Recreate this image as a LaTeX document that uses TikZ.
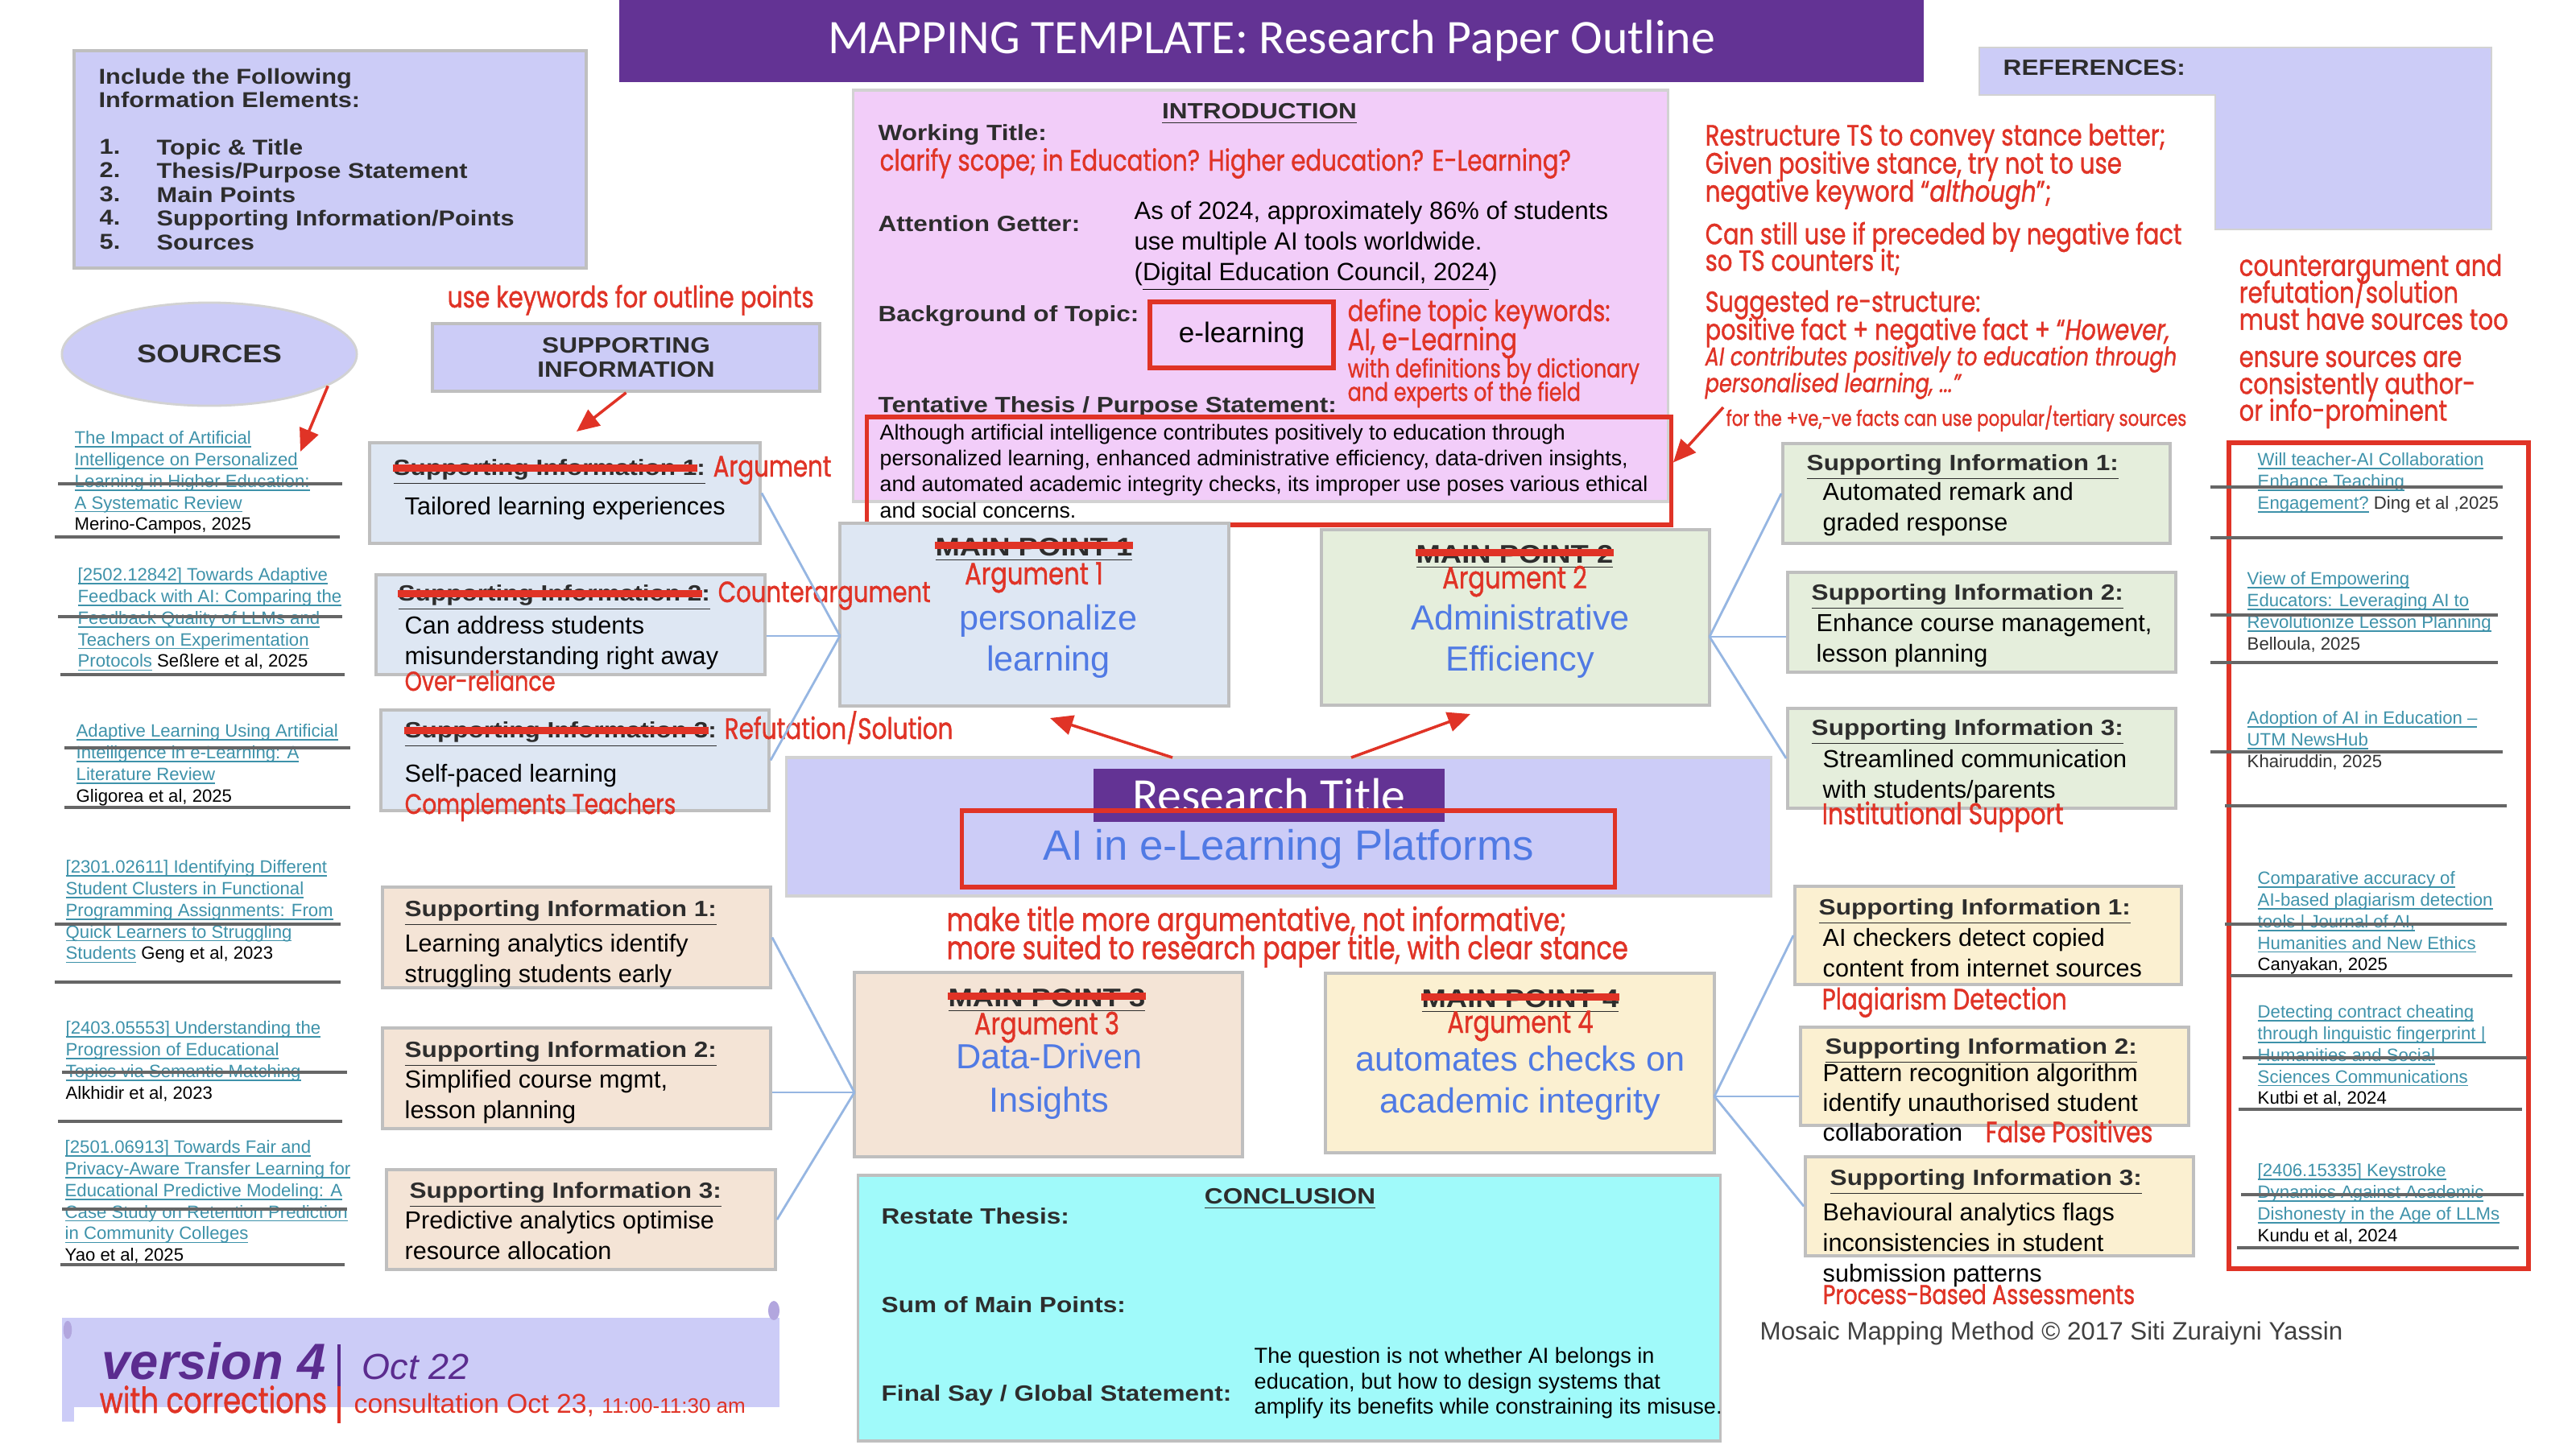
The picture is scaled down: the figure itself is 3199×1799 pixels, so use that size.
\documentclass[tikz,border=0pt]{standalone}
\usepackage{fontspec}
\usetikzlibrary{shapes.geometric,arrows.meta}
\setmainfont{Liberation Sans}
\newfontfamily\redf[FakeStretch=0.8, FakeBold=1]{Poppins}
\newfontfamily\hdf[FakeStretch=1.15]{Liberation Sans}
\newfontfamily\ttlf{Carlito}
\newcommand{\fsz}[2]{\fontsize{#1}{#2}\selectfont\lineskiplimit=-100pt\lineskip=0pt\relax}
\newsavebox\lnkbox
\newcommand{\lnk}[1]{\sbox\lnkbox{#1}\rlap{\rule[-1.2pt]{\wd\lnkbox}{0.45pt}}\usebox\lnkbox}
\definecolor{lav}{RGB}{204,204,247}
\definecolor{pinkbg}{RGB}{242,205,249}
\definecolor{purp}{RGB}{99,51,148}
\definecolor{verc}{RGB}{91,44,143}
\definecolor{bluebox}{RGB}{222,231,243}
\definecolor{greenbox}{RGB}{229,238,220}
\definecolor{tanbox}{RGB}{244,228,214}
\definecolor{yelbox}{RGB}{251,240,209}
\definecolor{cyanbox}{RGB}{160,250,250}
\definecolor{redc}{RGB}{224,51,38}
\definecolor{bluet}{RGB}{80,122,228}
\definecolor{lnkc}{RGB}{62,146,170}
\definecolor{connc}{RGB}{150,182,226}
\definecolor{hdc}{RGB}{45,45,45}
\tikzset{
 frameb/.style={draw=gray!50, line width=1pt, inner sep=0pt},
 redframe/.style={draw=redc, line width=1.5pt, inner sep=0pt},
 connl/.style={draw=connc, line width=0.8pt},
 redarr/.style={draw=redc, line width=1pt, -{Triangle[length=8pt,width=7pt]}},
 strk/.style={draw=redc, line width=2.6pt},
 sepl/.style={draw=gray!80!black, line width=1.1pt},
 tnw/.style={inner sep=0pt, anchor=north west, align=left},
 tbw/.style={inner sep=0pt, anchor=base west},
 tbc/.style={inner sep=0pt, anchor=base},
 bodyf/.style={font=\fsz{8.7}{10.6}},
 headf/.style={font=\hdf\bfseries\fsz{7.8}{9}, text=hdc},
 labf/.style={font=\hdf\bfseries\fsz{7.8}{9}, text=hdc},
 mphf/.style={font=\hdf\bfseries\fsz{9}{10}, text=hdc},
 redt/.style={text=redc},
 srct/.style={tnw, font=\fsz{6.3}{7.62}, text=lnkc},
 bigt/.style={inner sep=0pt, anchor=north, align=center, text=bluet, font=\fsz{12.3}{14.6}},
}
\begin{document}
\begin{tikzpicture}[x=0.01cm,y=-0.01cm]
\useasboundingbox (0,0) rectangle (3199,1799);
\fill[white] (0,0) rectangle (3199,1799);

% ---------- title ----------
\node[fill=purp, minimum width=16.2cm, minimum height=1.02cm, inner sep=0pt, text=white, font=\ttlf\fsz{17}{20}] (title) at (1579,51) {MAPPING TEMPLATE: Research Paper Outline};

% ---------- info box ----------
\node[frameb, fill=lav, minimum width=6.36cm, minimum height=2.70cm] (info) at (410,198) {};
\node[tnw, font=\hdf\bfseries\fsz{7.6}{8.5}, text=hdc] (infoh) at (122,84) {Include the Following\\Information Elements:};
\node[tnw, font=\hdf\bfseries\fsz{7.6}{8.4}, text=hdc] (infon) at (123,172) {1.\\2.\\3.\\4.\\5.};
\node[tnw, font=\hdf\bfseries\fsz{7.6}{8.4}, text=hdc] (infol) at (194,172) {Topic \& Title\\Thesis/Purpose Statement\\Main Points\\Supporting Information/Points\\Sources};

% ---------- sources ellipse / sup info header ----------
\node[ellipse, fill=lav, draw=gray!35, line width=0.8pt, minimum width=3.66cm, minimum height=1.28cm, font=\hdf\bfseries\fsz{9}{10}, text=hdc] (srcell) at (260,440) {SOURCES};
\node[frameb, fill=lav, minimum width=4.81cm, minimum height=0.84cm, align=center, font=\hdf\bfseries\fsz{7.8}{8.5}, text=hdc] (sihdr) at (777.5,444) {SUPPORTING\\INFORMATION};
\node[tbw, redt, font=\redf\fsz{10.5}{12}] (kw) at (555,382) {use keywords for outline points};
\coordinate (a1e) at (373,561);
\draw[redarr] (srcell.-15) -- (a1e);
\coordinate (a2e) at (716,536);
\draw[redarr] (sihdr.south) -- (a2e);

% ---------- introduction ----------
\node[frameb, fill=pinkbg, draw=gray!35, minimum width=10.11cm, minimum height=5.11cm] (intro) at (1565.5,367.5) {};
\node[tbc, headf] (introh) at (1564,147) {\underline{INTRODUCTION}};
\node[tbw, labf] (wt) at (1090,174) {Working Title:};
\node[tbw, redt, font=\redf\fsz{10.4}{12}] (wtr) at (1092,212) {clarify scope; in Education? Higher education? E-Learning?};
\node[tbw, labf] (ag) at (1090,287) {Attention Getter:};
\node[tnw, font=\fsz{8.8}{10.8}] (agt) at (1408,249) {As of 2024, approximately 86\% of students\\use multiple AI tools worldwide.\\(\underline{Digital Education Council, 2024})};
\node[tbw, labf] (bg) at (1090,399) {Background of Topic:};
\node[redframe, minimum width=2.28cm, minimum height=0.82cm, font=\fsz{10}{12}] (el) at (1542,416) {e-learning};
\node[tbw, redt, font=\redf\fsz{10.4}{12}] (dk1) at (1673,399) {define topic keywords:};
\node[tbw, redt, font=\redf\fsz{10.9}{12}] (dk2) at (1673,435) {AI, e-Learning};
\node[tnw, redt, font=\redf\fsz{9}{8.3}] (dk3) at (1673,444) {with definitions by dictionary\\and experts of the field};
\node[tbw, labf] (tt) at (1090,512) {Tentative Thesis / Purpose Statement:};
\node[redframe, minimum width=9.98cm, minimum height=1.34cm] (thesis) at (1576,585) {};
\node[tnw, font=\fsz{7.6}{9.2}] (thtxt) at (1092,526) {Although artificial intelligence contributes positively to education through\\personalized learning, enhanced administrative efficiency, data-driven insights,\\and automated academic integrity checks, its improper use poses various ethical\\and social concerns.};
\coordinate (a5s) at (2140,506);
\draw[redarr] (a5s) -- ([yshift=3pt]thesis.east);

% ---------- right red notes ----------
\node[tnw, redt, font=\redf\fsz{10.4}{9.9}] (n1) at (2117,153) {Restructure TS to convey stance better;\\Given positive stance, try not to use\\negative keyword “\textit{although}”;};
\node[tnw, redt, font=\redf\fsz{10.3}{9.4}] (n2) at (2117,275) {Can still use if preceded by negative fact\\so TS counters it;};
\node[tnw, redt, font=\redf\fsz{10.2}{9.9}] (n3) at (2117,360) {Suggested re-structure:\\positive fact + negative fact + “\textit{However,}};
\node[tnw, redt, font=\redf\itshape\fsz{9.1}{9.4}] (n4) at (2117,429) {AI contributes positively to education through\\personalised learning, ...”};
\node[tbw, redt, font=\redf\fsz{7.6}{8}] (n5) at (2143,529) {for the +ve,-ve facts can use popular/tertiary sources};
\node[tnw, redt, font=\redf\fsz{10.4}{9.5}] (n6) at (2780,315) {counterargument and\\refutation/solution\\must have sources too};
\node[tnw, redt, font=\redf\fsz{10.3}{9.5}] (n7) at (2780,435) {ensure sources are\\consistently author-\\or info-prominent};

% ---------- references ----------
\filldraw[fill=lav, draw=gray!35, line width=0.8pt] (2458,59) -- (3094,59) -- (3094,285) -- (2751,285) -- (2751,118) -- (2458,118) -- cycle;
\node[tbw, labf] (refh) at (2487,93) {REFERENCES:};

% ---------- left sources ----------
\node[srct] (s1) at (92,535) {\lnk{The Impact of Artificial}\\\lnk{Intelligence on Personalized}\\\lnk{Learning in Higher Education:}\\\lnk{A Systematic Review}\\{\color{black}Merino-Campos, 2025}};
\draw[sepl] (72,601) -- (425,601);
\draw[sepl] (68,667) -- (422,667);
\node[srct] (s2) at (96,705) {\lnk{[2502.12842] Towards Adaptive}\\\lnk{Feedback with AI: Comparing the}\\\lnk{Feedback Quality of LLMs and}\\\lnk{Teachers on Experimentation}\\\lnk{Protocols} {\color{black}Seßlere et al, 2025}};
\draw[sepl] (72,766) -- (425,766);
\draw[sepl] (75,838) -- (428,838);
\node[srct] (s3) at (94,899) {\lnk{Adaptive Learning Using Artificial}\\\lnk{Intelligence in e-Learning: A}\\\lnk{Literature Review}\\{\color{black}Gligorea et al, 2025}};
\draw[sepl] (80,929) -- (435,929);
\draw[sepl] (80,1003) -- (435,1003);
\node[srct] (s4) at (81,1068) {\lnk{[2301.02611] Identifying Different}\\\lnk{Student Clusters in Functional}\\\lnk{Programming Assignments: From}\\\lnk{Quick Learners to Struggling}\\\lnk{Students} {\color{black}Geng et al, 2023}};
\draw[sepl] (68,1148) -- (423,1148);
\draw[sepl] (68,1220) -- (423,1220);
\node[srct] (s5) at (81,1268) {\lnk{[2403.05553] Understanding the}\\\lnk{Progression of Educational}\\\lnk{Topics via Semantic Matching}\\{\color{black}Alkhidir et al, 2023}};
\draw[sepl] (77,1332) -- (431,1332);
\draw[sepl] (72,1393) -- (425,1393);
\node[srct] (s6) at (80,1416) {\lnk{[2501.06913] Towards Fair and}\\\lnk{Privacy-Aware Transfer Learning for}\\\lnk{Educational Predictive Modeling: A}\\\lnk{Case Study on Retention Prediction}\\\lnk{in Community Colleges}\\{\color{black}Yao et al, 2025}};
\draw[sepl] (77,1502) -- (431,1502);
\draw[sepl] (75,1571) -- (428,1571);

% ---------- right sources ----------
\node[redframe, line width=1.8pt, minimum width=3.72cm, minimum height=10.26cm] (refred) at (2954,1063) {};
\node[srct] (r1) at (2803,562) {\lnk{Will teacher-AI Collaboration}\\\lnk{Enhance Teaching}\\\lnk{Engagement?} {\color{black!80}Ding et al ,2025}};
\draw[sepl] (2745,605) -- (3108,605);
\draw[sepl] (2745,668) -- (3108,668);
\node[srct] (r2) at (2790,710) {\lnk{View of Empowering}\\\lnk{Educators: Leveraging AI to}\\\lnk{Revolutionize Lesson Planning}\\{\color{black!80}Belloula, 2025}};
\draw[sepl] (2745,764) -- (3102,764);
\draw[sepl] (2745,823) -- (3102,823);
\node[srct] (r3) at (2790,883) {\lnk{Adoption of AI in Education –}\\\lnk{UTM NewsHub}\\{\color{black!80}Khairuddin, 2025}};
\draw[sepl] (2745,934) -- (3108,934);
\draw[sepl] (2763,1001) -- (3113,1001);
\node[srct] (r4) at (2803,1082) {\lnk{Comparative accuracy of}\\\lnk{AI-based plagiarism detection}\\\lnk{tools | Journal of AI,}\\\lnk{Humanities and New Ethics}\\{\color{black}Canyakan, 2025}};
\draw[sepl] (2763,1148) -- (3113,1148);
\draw[sepl] (2770,1212) -- (3120,1212);
\node[srct] (r5) at (2803,1248) {\lnk{Detecting contract cheating}\\\lnk{through linguistic fingerprint |}\\\lnk{Humanities and Social}\\\lnk{Sciences Communications}\\{\color{black}Kutbi et al, 2024}};
\draw[sepl] (2785,1314) -- (3138,1314);
\draw[sepl] (2780,1378) -- (3132,1378);
\node[srct] (r6) at (2803,1445) {\lnk{[2406.15335] Keystroke}\\\lnk{Dynamics Against Academic}\\\lnk{Dishonesty in the Age of LLMs}\\{\color{black}Kundu et al, 2024}};
\draw[sepl] (2783,1484) -- (3134,1484);
\draw[sepl] (2778,1550) -- (3128,1550);

% ---------- main point 1 + left supporting ----------
\node[frameb, fill=bluebox, minimum width=4.83cm, minimum height=2.27cm] (mp1) at (1284.5,763.5) {};
\node[tbc, mphf] (mp1h) at (1284,690) {\underline{MAIN POINT 1}};
\draw[strk] ([yshift=1.5pt]mp1h.west) -- ([yshift=1.5pt]mp1h.east);
\node[tbc, redt, font=\redf\fsz{10.9}{12}] (mp1a) at (1284,726) {Argument 1};
\node[bigt] (mp1t) at (1302,750) {personalize\\learning};

\node[frameb, fill=bluebox, minimum width=4.85cm, minimum height=1.25cm] (sil1) at (701.5,612.5) {};
\node[tbw, headf] (sil1h) at (488,590) {\underline{Supporting Information 1:}};
\draw[strk] ([yshift=1.5pt]sil1h.west) -- ([yshift=1.5pt,xshift=-3pt]sil1h.east);
\node[tbw, redt, font=\redf\fsz{10.4}{12}] (sil1r) at (885,592) {Argument};
\node[tbw, bodyf] (sil1t) at (502,639) {Tailored learning experiences};

\node[frameb, fill=bluebox, minimum width=4.83cm, minimum height=1.24cm] (sil2) at (708.5,776) {};
\node[tbw, headf] (sil2h) at (494,746) {\underline{Supporting Information 2:}};
\draw[strk] ([yshift=1.5pt]sil2h.west) -- ([yshift=1.5pt,xshift=-3pt]sil2h.east);
\node[tbw, redt, font=\redf\fsz{10.35}{12}] (sil2r) at (891,748) {Counterargument};
\node[tnw, bodyf] (sil2t) at (502,765) {Can address students\\misunderstanding right away};
\node[tbw, redt, font=\redf\fsz{9.6}{12}] (sil2x) at (502,858) {Over-reliance};

\node[frameb, fill=bluebox, minimum width=4.82cm, minimum height=1.25cm] (sil3) at (714,944.5) {};
\node[tbw, headf] (sil3h) at (502,916) {\underline{Supporting Information 3:}};
\draw[strk] ([yshift=1.5pt]sil3h.west) -- ([yshift=1.5pt,xshift=-3pt]sil3h.east);
\node[tbw, redt, font=\redf\fsz{10.5}{12}] (sil3r) at (899,918) {Refutation/Solution};
\node[tbw, bodyf] (sil3t) at (502,971) {Self-paced learning};
\node[tbw, redt, font=\redf\fsz{9.95}{12}] (sil3x) at (502,1011) {Complements Teachers};

\coordinate (mp1in) at (1043,790);
\draw[connl] (sil1.east) -- (mp1in);
\draw[connl] (sil2.east |- mp1in) -- (mp1in);
\draw[connl] (sil3.east) -- (mp1in);

% ---------- main point 2 + right supporting ----------
\node[frameb, fill=greenbox, minimum width=4.82cm, minimum height=2.18cm] (mp2) at (1882,767) {};
\node[tbc, mphf] (mp2h) at (1881,699) {\underline{MAIN POINT 2}};
\draw[strk] ([yshift=1.5pt]mp2h.west) -- ([yshift=1.5pt]mp2h.east);
\node[tbc, redt, font=\redf\fsz{10.9}{12}] (mp2a) at (1881,731) {Argument 2};
\node[bigt] (mp2t) at (1888,750) {Administrative\\Efficiency};

\node[frameb, fill=greenbox, minimum width=4.81cm, minimum height=1.24cm] (sir1) at (2454.5,613) {};
\node[tbw, headf] (sir1h) at (2243,584) {\underline{Supporting Information 1:}};
\node[tnw, bodyf] (sir1t) at (2263,599) {Automated remark and\\graded response};

\node[frameb, fill=greenbox, minimum width=4.82cm, minimum height=1.24cm] (sir2) at (2461,773) {};
\node[tbw, headf] (sir2h) at (2249,745) {\underline{Supporting Information 2:}};
\node[tnw, bodyf] (sir2t) at (2255,762) {Enhance course management,\\lesson planning};

\node[frameb, fill=greenbox, minimum width=4.82cm, minimum height=1.24cm] (sir3) at (2461,942) {};
\node[tbw, headf] (sir3h) at (2249,913) {\underline{Supporting Information 3:}};
\node[tnw, bodyf] (sir3t) at (2263,931) {Streamlined communication\\with students/parents};
\node[tbw, redt, font=\redf\fsz{10.6}{12}] (sir3x) at (2262,1024) {Institutional Support};

\coordinate (mp2out) at (2123,791);
\draw[connl] (mp2out) -- (sir1.west);
\draw[connl] (mp2out) -- (sir2.west |- mp2out);
\draw[connl] (mp2out) -- (sir3.west);

% ---------- research title ----------
\node[frameb, fill=lav, draw=gray!35, minimum width=12.22cm, minimum height=1.72cm] (rt) at (1588,1027) {};
\node[fill=purp, minimum width=4.36cm, minimum height=0.66cm, inner sep=0pt, text=white, font=\ttlf\fsz{17}{20}] (rtp) at (1576,988) {Research Title};
\node[redframe, minimum width=8.1cm, minimum height=0.95cm, text=bluet, font=\fsz{15}{17}] (rtred) at (1600,1054.5) {AI in e-Learning Platforms};
\coordinate (a3s) at (1456,941);
\coordinate (a3e) at (1304,892);
\draw[redarr] (a3s) -- (a3e);
\coordinate (a4s) at (1678,941);
\coordinate (a4e) at (1826,887);
\draw[redarr] (a4s) -- (a4e);
\node[tnw, redt, font=\redf\fsz{11.4}{10}] (mk) at (1175,1125) {make title more argumentative, not informative;\\more suited to research paper title, with clear stance};

% ---------- main point 3 + left supporting ----------
\node[frameb, fill=tanbox, minimum width=4.82cm, minimum height=2.29cm] (mp3) at (1302,1322.5) {};
\node[tbc, mphf] (mp3h) at (1300,1250) {\underline{MAIN POINT 3}};
\draw[strk] ([yshift=1.5pt]mp3h.west) -- ([yshift=1.5pt]mp3h.east);
\node[tbc, redt, font=\redf\fsz{10.9}{12}] (mp3a) at (1300,1285) {Argument 3};
\node[bigt, font=\fsz{12.3}{15.4}] (mp3t) at (1303,1295) {Data-Driven\\Insights};

\node[frameb, fill=tanbox, minimum width=4.82cm, minimum height=1.25cm] (sil4) at (716,1164.5) {};
\node[tbw, headf] (sil4h) at (502,1138) {\underline{Supporting Information 1:}};
\node[tnw, bodyf] (sil4t) at (502,1160) {Learning analytics identify\\struggling students early};

\node[frameb, fill=tanbox, minimum width=4.82cm, minimum height=1.25cm] (sil5) at (716,1339.5) {};
\node[tbw, headf] (sil5h) at (502,1313) {\underline{Supporting Information 2:}};
\node[tnw, bodyf] (sil5t) at (502,1329) {Simplified course mgmt,\\lesson planning};

\node[frameb, fill=tanbox, minimum width=4.83cm, minimum height=1.24cm] (sil6) at (721.5,1515) {};
\node[tbw, headf] (sil6h) at (508,1488) {\underline{Supporting Information 3:}};
\node[tnw, bodyf] (sil6t) at (502,1504) {Predictive analytics optimise\\resource allocation};

\coordinate (mp3in) at (1061,1357);
\draw[connl] (sil4.east) -- (mp3in);
\draw[connl] (sil5.east |- mp3in) -- (mp3in);
\draw[connl] (sil6.east) -- (mp3in);

% ---------- main point 4 + right supporting ----------
\node[frameb, fill=yelbox, minimum width=4.83cm, minimum height=2.23cm] (mp4) at (1887.5,1320.5) {};
\node[tbc, mphf] (mp4h) at (1888,1251) {\underline{MAIN POINT 4}};
\draw[strk] ([yshift=1.5pt]mp4h.west) -- ([yshift=1.5pt]mp4h.east);
\node[tbc, redt, font=\redf\fsz{10.9}{12}] (mp4a) at (1888,1283) {Argument 4};
\node[bigt, font=\fsz{12.3}{14.8}] (mp4t) at (1888,1298) {automates checks on\\academic integrity};

\node[frameb, fill=yelbox, minimum width=4.8cm, minimum height=1.22cm] (sir4) at (2469,1162) {};
\node[tbw, headf] (sir4h) at (2258,1136) {\underline{Supporting Information 1:}};
\node[tnw, bodyf] (sir4t) at (2263,1153) {AI checkers detect copied\\content from internet sources};
\node[tbw, redt, font=\redf\fsz{10.45}{12}] (sir4x) at (2262,1254) {Plagiarism Detection};

\node[frameb, fill=yelbox, minimum width=4.82cm, minimum height=1.22cm] (sir5) at (2477,1337) {};
\node[tbw, headf] (sir5h) at (2266,1309) {\underline{Supporting Information 2:}};
\node[tnw, font=\fsz{8.7}{10.4}] (sir5t) at (2263,1321) {Pattern recognition algorithm\\identify unauthorised student\\collaboration};
\node[tbw, redt, font=\redf\fsz{10.35}{12}] (sir5x) at (2465,1419) {False Positives};

\node[frameb, fill=yelbox, minimum width=4.82cm, minimum height=1.23cm] (sir6) at (2483,1498.5) {};
\node[tbw, headf] (sir6h) at (2272,1472) {\underline{Supporting Information 3:}};
\node[tnw, font=\fsz{8.7}{10.7}] (sir6t) at (2263,1494) {Behavioural analytics flags\\inconsistencies in student\\submission patterns};
\node[tbw, redt, font=\redf\fsz{9.6}{12}] (sir6x) at (2263,1620) {Process-Based Assessments};

\coordinate (mp4out) at (2129,1362);
\draw[connl] (mp4out) -- (sir4.west);
\draw[connl] (mp4out) -- (sir5.west |- mp4out);
\draw[connl] (mp4out) -- (sir6.west);

% ---------- conclusion ----------
\node[frameb, fill=cyanbox, minimum width=10.7cm, minimum height=3.3cm] (concl) at (1601,1625) {};
\node[tbc, headf] (conh) at (1602,1495) {\underline{CONCLUSION}};
\node[tbw, labf] (c1) at (1094,1520) {Restate Thesis:};
\node[tbw, labf] (c2) at (1094,1630) {Sum of Main Points:};
\node[tbw, labf] (c3) at (1094,1740) {Final Say / Global Statement:};
\node[tnw, font=\fsz{7.7}{9}] (c3t) at (1557,1673) {The question is not whether AI belongs in\\education, but how to design systems that\\amplify its benefits while constraining its misuse.};

% ---------- version scroll ----------
\node[fill=lav, minimum width=8.91cm, minimum height=1.11cm, inner sep=0pt] (ver) at (522.5,1692.5) {};
\fill[lav] (77,1745) rectangle (92,1766);
\fill[lav!75!purp] (961,1628) ellipse [x radius=2pt, y radius=3.4pt];
\fill[lav!75!purp] (84,1652) ellipse [x radius=1.5pt, y radius=3.2pt];
\node[tbw, text=verc, font=\bfseries\itshape\fsz{18}{20}] (v4) at (126,1713) {version 4};
\draw[verc, line width=1pt] (421,1670) -- (421,1722);
\draw[redc, line width=1pt] (421,1722) -- (421,1768);
\node[tbw, text=verc, font=\itshape\fsz{12.8}{14}] (oct) at (449,1713) {Oct 22};
\node[tbw, redt, font=\redf\fsz{12.6}{14}] (wc) at (123,1755) {with corrections};
\node[tbw, redt, font=\fsz{9.6}{11}] (cons) at (439,1755) {consultation Oct 23, {\fsz{7.4}{9}11:00-11:30 am}};

% ---------- credit ----------
\node[tbw, text=black!75, font=\fsz{8.9}{10}] (mosaic) at (2185,1664) {Mosaic Mapping Method © 2017 Siti Zuraiyni Yassin};
\end{tikzpicture}
\end{document}
